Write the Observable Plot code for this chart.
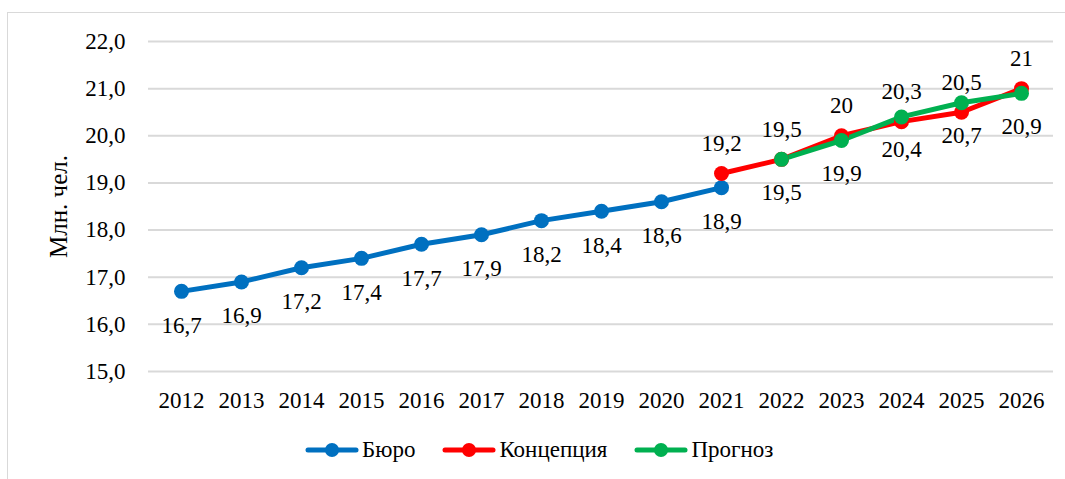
<!DOCTYPE html>
<html>
<head>
<meta charset="utf-8">
<script src="https://cdn.jsdelivr.net/npm/d3@7"></script>
<script src="https://cdn.jsdelivr.net/npm/@observablehq/plot@0.6"></script>
<style>
  html, body { margin: 0; padding: 0; background: #fff; }
  body { width: 1065px; height: 479px; position: relative; overflow: hidden; font-family: 'Liberation Serif', serif; }
  #frame { position: absolute; left: 7px; top: 12px; width: 1070px; height: 480px; border-top: 1.5px solid #d9d9d9; border-left: 1.5px solid #d9d9d9; box-sizing: border-box; }
  #chart { position: absolute; left: 0; top: 0; }
  #legend { position: absolute; left: 305px; top: 437px; display: flex; align-items: center; font-size: 23px; color: #000; }
  .item { display: flex; align-items: center; margin-right: 27px; }
  .item svg { margin-right: 3px; }
</style>
</head>
<body>
<div id="frame"></div>
<div id="chart"></div>
<div id="legend" style="font-family: 'Liberation Serif'"></div>
<script>
const years = [2012, 2013, 2014, 2015, 2016, 2017, 2018, 2019, 2020, 2021, 2022, 2023, 2024, 2025, 2026];
const seriesNames = ["Бюро", "Концепция", "Прогноз"];
const seriesColors = ["#0070C0", "#FF0000", "#00B050"];
const buroYears = [2012, 2013, 2014, 2015, 2016, 2017, 2018, 2019, 2020, 2021];
const buroValues = [16.7, 16.9, 17.2, 17.4, 17.7, 17.9, 18.2, 18.4, 18.6, 18.9];
const konzYears = [2021, 2022, 2023, 2024, 2025, 2026];
const konzValues = [19.2, 19.5, 20.0, 20.3, 20.5, 21.0];
const progYears = [2022, 2023, 2024, 2025, 2026];
const progValues = [19.5, 19.9, 20.4, 20.7, 20.9];
const yTicks = [15, 16, 17, 18, 19, 20, 21, 22];
const yLabel = "Млн. чел.";

const mk = (ys, vs, s) => ys.map((y, i) => ({year: y, value: vs[i], series: s}));
const buro = mk(buroYears, buroValues, seriesNames[0]);
const konz = mk(konzYears, konzValues, seriesNames[1]);
const prog = mk(progYears, progValues, seriesNames[2]);
const all = [...buro, ...konz, ...prog];

const fmtTick = d => d.toFixed(1).replace(".", ",");
const fmtLabel = d => String(d).replace(".", ",");
const font = "Liberation Serif";

const chart = Plot.plot({
  width: 1065,
  height: 420,
  marginLeft: 148,
  marginRight: 12,
  marginTop: 41,
  marginBottom: 49,
  style: { fontSize: "23px", color: "#000", background: "transparent" },
  x: { type: "point", domain: years, padding: 0.5, label: null },
  y: { domain: [15, 22], label: null },
  color: { domain: seriesNames, range: seriesColors },
  marks: [
    Plot.gridY(yTicks, { stroke: "#d9d9d9", strokeOpacity: 1, strokeWidth: 2 }),
    Plot.axisY(yTicks, { tickSize: 0, tickPadding: 23, tickFormat: fmtTick, label: null, fontSize: 23 }),
    Plot.axisX(years, { tickSize: 0, tickPadding: 20, tickFormat: d => String(d), label: null, fontSize: 23 }),
    Plot.line(all, { x: "year", y: "value", z: "series", stroke: "series", strokeWidth: 5, strokeLinecap: "round", strokeLinejoin: "round" }),
    Plot.dot(all, { x: "year", y: "value", fill: "series", r: 7.5, stroke: null }),
    Plot.text(buro, { x: "year", y: "value", text: d => fmtLabel(d.value), dy: 34, fill: "#000", fontSize: 23 }),
    Plot.text(konz, { x: "year", y: "value", text: d => fmtLabel(d.value), dy: -30, fill: "#000", fontSize: 23 }),
    Plot.text(prog, { x: "year", y: "value", text: d => fmtLabel(d.value), dy: 33, fill: "#000", fontSize: 23 }),
    Plot.text([yLabel], { frameAnchor: "left", textAnchor: "middle", dx: -90, rotate: -90, text: d => d, fontSize: 25, fill: "#000" })
  ]
});
chart.setAttribute("font-family", font);
chart.querySelectorAll("g, text").forEach(t => t.setAttribute("font-family", font));
document.getElementById("chart").appendChild(chart);

const legend = document.getElementById("legend");
seriesNames.forEach((name, i) => {
  const item = document.createElement("div");
  item.className = "item";
  item.innerHTML = `<svg width="54" height="16"><line x1="3" y1="8" x2="51" y2="8" stroke="${seriesColors[i]}" stroke-width="5" stroke-linecap="round"/><circle cx="27" cy="8" r="7" fill="${seriesColors[i]}"/></svg><span style="font-family: 'Liberation Serif'">${name}</span>`;
  legend.appendChild(item);
});
</script>
</body>
</html>
